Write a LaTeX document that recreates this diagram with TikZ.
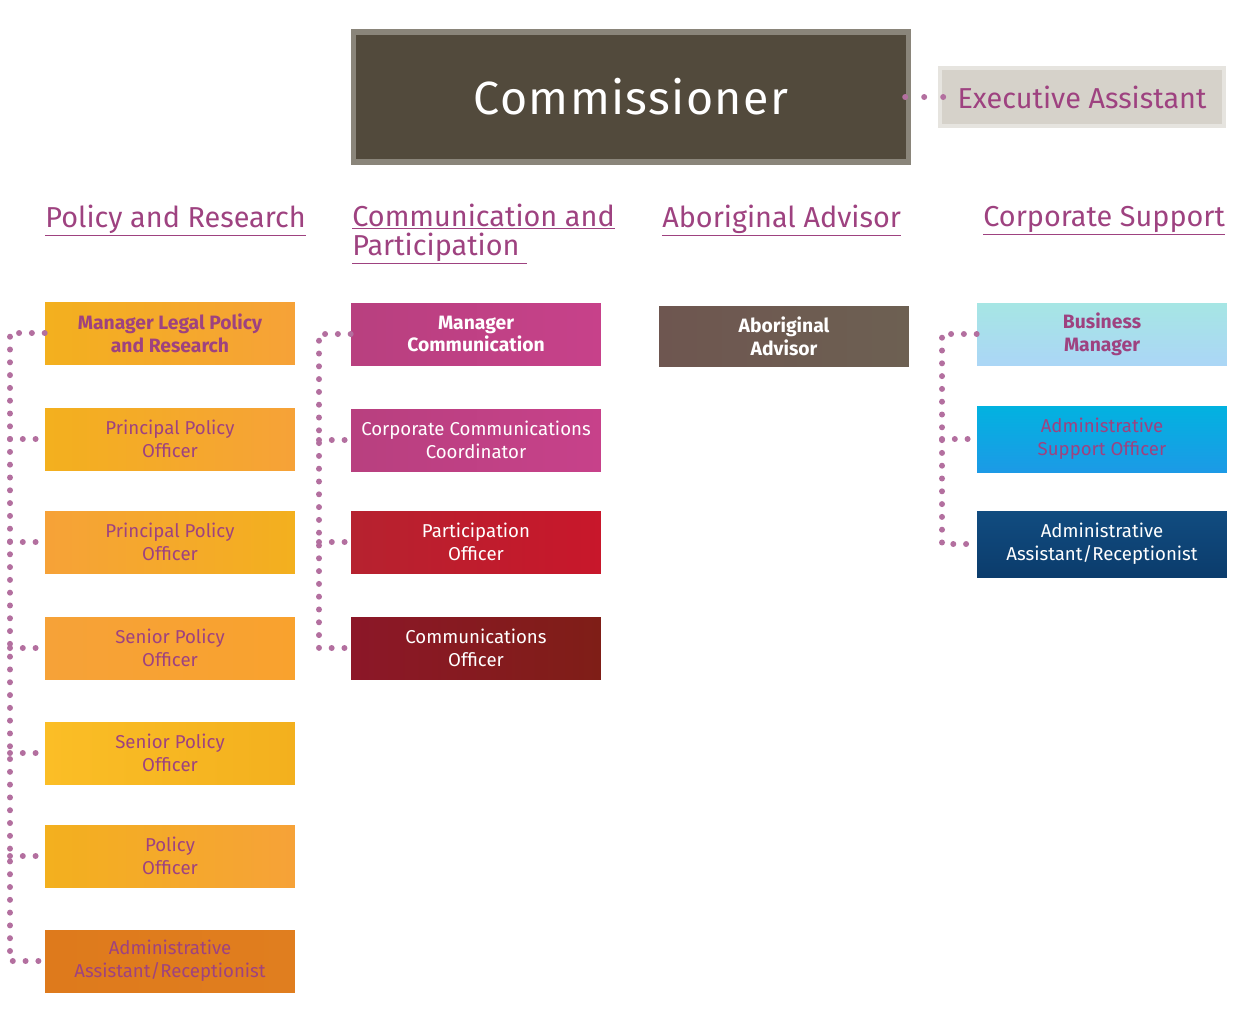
\documentclass[tikz,border=0pt]{standalone}
\usepackage{fontspec}
\setmainfont{Fira Sans}
\newfontfamily\titlefont[LetterSpace=3]{Fira Sans}

\definecolor{plum}{HTML}{9E4280}
\definecolor{dotpink}{HTML}{B36F9F}
\definecolor{commbrown}{HTML}{524A3C}
\definecolor{commframe}{HTML}{8A857A}
\definecolor{eagrey}{HTML}{D6D2CA}
\definecolor{orgA}{HTML}{F3B01E}
\definecolor{orgB}{HTML}{F6A238}
\definecolor{orgC}{HTML}{F9A22E}
\definecolor{orgD}{HTML}{FBBE26}
\definecolor{orgE}{HTML}{DE7A1C}
\definecolor{magA}{HTML}{B8407F}
\definecolor{magB}{HTML}{C7418A}
\definecolor{redA}{HTML}{B6222F}
\definecolor{redB}{HTML}{C8172B}
\definecolor{wineA}{HTML}{8C1728}
\definecolor{wineB}{HTML}{7F1E17}
\definecolor{aboA}{HTML}{6E5650}
\definecolor{aboB}{HTML}{6D6052}
\definecolor{cyanA}{HTML}{A6E6E4}
\definecolor{cyanB}{HTML}{ABD6F6}
\definecolor{skyA}{HTML}{02B2E0}
\definecolor{skyB}{HTML}{1C9AE6}
\definecolor{navyA}{HTML}{114C80}
\definecolor{navyB}{HTML}{0B3C6C}

\begin{document}
\begin{tikzpicture}[x=0.02cm,y=-0.02cm,
    box/.style={minimum width=5cm,minimum height=1.24cm,inner sep=0pt,align=center,
        font=\fontsize{10.6}{13}\selectfont},
    bold box/.style={font=\fontsize{11}{13}\bfseries},
    policy/.style={box,text=plum},
    white box/.style={box,text=white},
    head/.style={anchor=base west,inner sep=0pt,text=plum,font=\fontsize{16.4}{18}\selectfont},
    dotline/.style={dotpink,line width=1.2mm,line cap=round,dash pattern=on 0pt off 2.56mm}]
\useasboundingbox (0,0) rectangle (1240,1012);

% top of the chart
\node[fill=commbrown,draw=commframe,line width=1.1mm,minimum width=11.1cm,minimum height=2.6cm,
    text=white,font=\titlefont\fontsize{26.5}{30}\selectfont] (comm) at (631,97) {Commissioner};
\node[fill=eagrey,draw=eagrey!60,line width=0.8mm,minimum width=5.7cm,minimum height=1.15cm,
    text=plum,font=\fontsize{16.4}{18}\selectfont] (ea) at (1082,97) {Executive Assistant};
\draw[dotline,dash pattern=on 0pt off 3.8mm,shorten <=-1.2mm,shorten >=-1.2mm] (comm.east) -- (ea.west);

% section headings
\node[head] (hpol) at (45,227) {\underline{Policy and Research}};
\node[head] (hcom) at (352,226) {\underline{Communication and}};
\node[head] (hcom2) at (352,255) {\underline{Participation\ }};
\node[head] (habo) at (662,227) {\underline{Aboriginal Advisor}};
\node[head] (hcor) at (983,226) {\underline{Corporate Support}};

% policy and research
\node[policy,bold box,left color=orgA,right color=orgB] (mlpr) at (170,333) {Manager Legal Policy\\and Research};
\node[policy,left color=orgA,right color=orgB] (ppo1) at (170,439) {Principal Policy\\Officer};
\node[policy,left color=orgB,right color=orgA] (ppo2) at (170,542) {Principal Policy\\Officer};
\node[policy,left color=orgB,right color=orgC] (spo1) at (170,648) {Senior Policy\\Officer};
\node[policy,left color=orgD,right color=orgA] (spo2) at (170,753) {Senior Policy\\Officer};
\node[policy,left color=orgA,right color=orgB] (po) at (170,856) {Policy\\Officer};
\node[policy,left color=orgE,right color=orgE!90!orgB] (aar1) at (170,961) {Administrative\\Assistant/Receptionist};

% communication and participation
\node[white box,bold box,left color=magA,right color=magB] (mcom) at (476,334) {Manager\\Communication};
\node[white box,left color=magA,right color=magB] (ccc) at (476,440) {Corporate Communications\\Coordinator};
\node[white box,left color=redA,right color=redB] (pao) at (476,542) {Participation\\Officer};
\node[white box,left color=wineA,right color=wineB] (cmo) at (476,648) {Communications\\Officer};

% aboriginal advisor
\node[white box,bold box,left color=aboA,right color=aboB,minimum height=1.2cm] (aba) at (784,336) {Aboriginal\\Advisor};

% corporate support
\node[policy,bold box,top color=cyanA,bottom color=cyanB] (bm) at (1102,334) {Business\\Manager};
\node[policy,top color=skyA,bottom color=skyB,minimum height=1.32cm] (aso) at (1102,439) {Administrative\\Support Officer};
\node[white box,top color=navyA,bottom color=navyB,minimum height=1.32cm] (aar2) at (1102,544) {Administrative\\Assistant/Receptionist};

% dotted reporting lines
\coordinate (busP) at (10,333);
\coordinate (busC) at (319,334);
\coordinate (busS) at (942,334);
\draw[dotline] (mlpr.west) -- (busP) |- (aar1.west);
\foreach \n in {ppo1,ppo2,spo1,spo2,po}
    \draw[dotline] (\n.west -| busP) -- (\n.west);
\draw[dotline] (mcom.west) -- (busC) |- (cmo.west);
\foreach \n in {ccc,pao}
    \draw[dotline] (\n.west -| busC) -- (\n.west);
\draw[dotline] (bm.west) -- (busS) |- (aar2.west);
\draw[dotline] (aso.west -| busS) -- (aso.west);
\end{tikzpicture}
\end{document}
